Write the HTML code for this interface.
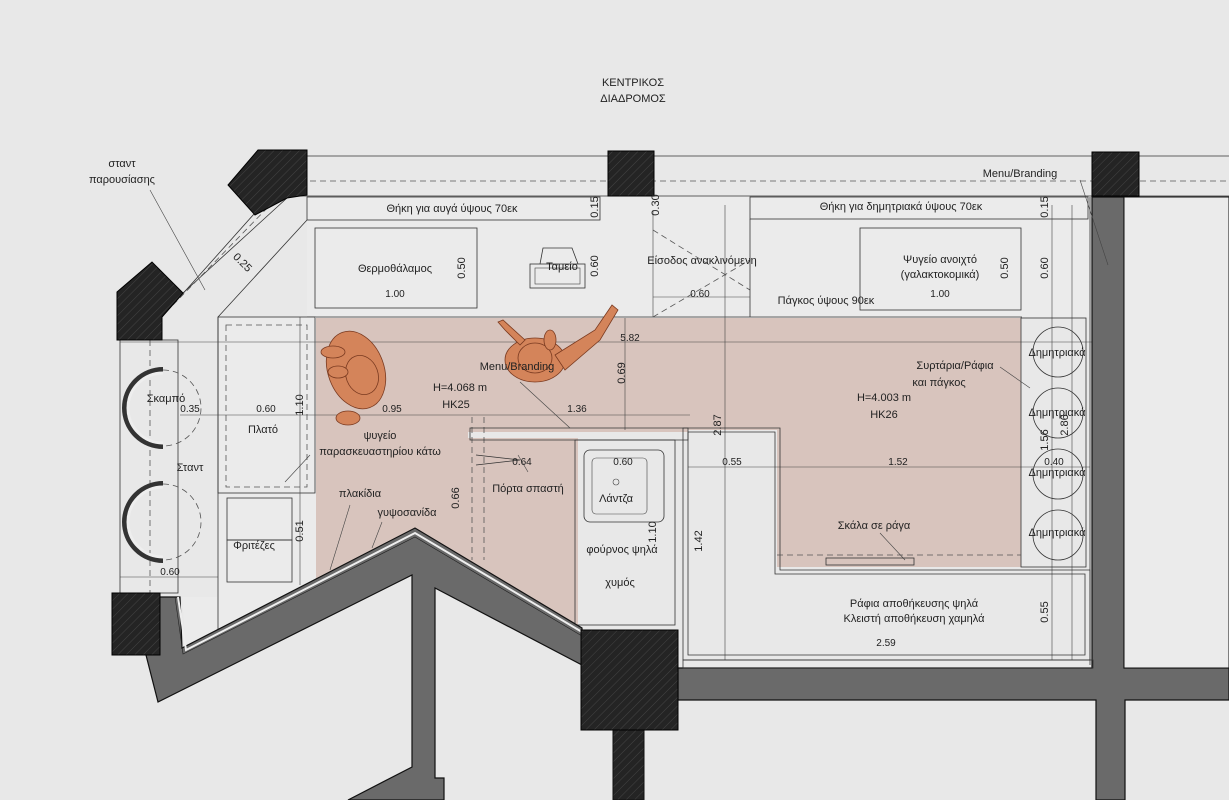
<!DOCTYPE html>
<html><head><meta charset="utf-8"><style>
html,body{margin:0;padding:0;background:#e8e8e8;}
svg{display:block;font-family:"Liberation Sans",sans-serif;}
text{fill:#222;font-size:11px;}
.c{text-anchor:middle}
.l{stroke:#333;stroke-width:0.8;fill:none}
.t{stroke:#444;stroke-width:0.6;fill:none}
.d{stroke:#555;stroke-width:0.8;fill:none;stroke-dasharray:6 4}
.col{stroke:#000;stroke-width:1}
.wall{fill:#6a6a6a;stroke:#111;stroke-width:1.2}
</style></head><body>
<svg width="1229" height="800" viewBox="0 0 1229 800" xmlns="http://www.w3.org/2000/svg">
<defs>
<pattern id="h" width="6" height="6" patternUnits="userSpaceOnUse" patternTransform="rotate(45)"><rect width="6" height="6" fill="#242424"/><line x1="0" y1="0" x2="0" y2="6" stroke="#444" stroke-width="1"/></pattern>
<pattern id="pl" width="16" height="16" patternUnits="userSpaceOnUse"><rect width="16" height="16" fill="#e4e4e4"/><path d="M8 5v6M5 8h6" stroke="#999" stroke-width="0.6"/></pattern>
</defs>
<rect width="1229" height="800" fill="#e8e8e8"/>
<line x1="300" y1="156" x2="1229" y2="156" class="l"/>
<line x1="300" y1="196" x2="1229" y2="196" class="l"/>
<line x1="290" y1="181" x2="1229" y2="181" class="d"/>
<polygon points="307,197 1090,197 1090,317 307,317" fill="#ebebeb"/>
<rect x="307" y="197" width="293" height="23" fill="#e9e9e9" class="l"/>
<rect x="750" y="197" width="338" height="22" fill="#e9e9e9" class="l"/>
<line x1="307" y1="317" x2="1022" y2="317" class="l"/>
<line x1="1090" y1="197" x2="1090" y2="665" class="l"/>
<!-- pink floor -->
<polygon points="316,318 1021,318 1021,567 777,567 777,430 688,430 688,432 468,432 468,566 415,535 316,586" fill="#d8c4bd"/>
<polygon points="466,438 578,438 578,630 466,564" fill="#d8c4bd"/>
<!-- left counter zone -->
<polygon points="218,317 316,317 316,586 186,652 182,597 218,597" fill="#ebebeb"/>
<line x1="218" y1="317" x2="307" y2="220" class="l"/>
<line x1="218" y1="317" x2="218" y2="640" class="l"/>
<rect x="218" y="317" width="97" height="176" fill="url(#pl)" class="l"/>
<rect x="226" y="325" width="81" height="162" class="d"/>
<rect x="227" y="498" width="65" height="42" class="l"/>
<rect x="227" y="540" width="65" height="42" class="l"/>
<rect x="120" y="340" width="58" height="253" fill="#ebebeb" class="l"/>
<line x1="150" y1="340" x2="150" y2="593" class="d"/>
<path d="M163,370 A38,38 0 0 0 163,446" stroke="#333" stroke-width="6" fill="none"/>
<path d="M163,373 A35,35 0 0 0 163,443" stroke="#eee" stroke-width="3" fill="none"/>
<path d="M163,484 A38,38 0 0 0 163,560" stroke="#333" stroke-width="6" fill="none"/>
<path d="M163,487 A35,35 0 0 0 163,557" stroke="#eee" stroke-width="3" fill="none"/>
<path d="M163,370 A38,38 0 0 1 163,446" class="d"/>
<path d="M163,484 A38,38 0 0 1 163,560" class="d"/>
<line x1="162" y1="317" x2="262" y2="205" class="l"/>
<line x1="183" y1="293" x2="287" y2="198" class="l"/>
<line x1="173" y1="305" x2="273" y2="202" class="d"/>
<line x1="150" y1="190" x2="205" y2="290" class="t"/>
<line x1="120" y1="342" x2="1095" y2="342" class="t"/>
<line x1="180" y1="415" x2="690" y2="415" class="t"/>
<line x1="120" y1="577" x2="218" y2="577" class="t"/>
<line x1="688" y1="467" x2="1090" y2="467" class="t"/>
<line x1="625" y1="318" x2="625" y2="430" class="t"/>
<line x1="725" y1="205" x2="725" y2="660" class="t"/>
<line x1="1052" y1="205" x2="1052" y2="660" class="t"/>
<line x1="1072" y1="205" x2="1072" y2="660" class="t"/>
<line x1="300" y1="317" x2="300" y2="585" class="t"/>
<line x1="472" y1="417" x2="472" y2="560" class="d"/>
<line x1="484" y1="417" x2="484" y2="560" class="d"/>
<line x1="653" y1="210" x2="653" y2="317" class="t"/>
<line x1="653" y1="230" x2="750" y2="290" class="d"/>
<line x1="653" y1="317" x2="750" y2="260" class="d"/>
<line x1="750" y1="219" x2="750" y2="317" class="l"/>
<line x1="653" y1="297" x2="750" y2="297" class="t"/>
<rect x="315" y="228" width="162" height="80" fill="#e6e6e6" class="l"/>
<rect x="860" y="228" width="161" height="82" fill="#e6e6e6" class="l"/>
<rect x="530" y="264" width="55" height="24" fill="#e6e6e6" class="l"/>
<rect x="535" y="268" width="45" height="16" class="t"/>
<path d="M540,264 L543,248 L572,248 L578,264" class="l"/>
<rect x="1021" y="318" width="65" height="249" fill="#ebebeb" class="l"/>
<circle cx="1058" cy="352" r="25" class="l"/>
<circle cx="1058" cy="413" r="25" class="l"/>
<circle cx="1058" cy="474" r="25" class="l"/>
<circle cx="1058" cy="535" r="25" class="l"/>
<polygon points="683,428 780,428 780,570 1090,570 1090,660 683,660" fill="#ebebeb" class="l"/>
<polygon points="688,432 775,432 775,574 1085,574 1085,655 688,655" class="l"/>
<rect x="826" y="558" width="88" height="7" fill="#eee" class="l"/>
<line x1="777" y1="555" x2="1021" y2="555" class="d"/>
<polygon points="470,428 688,428 688,440 470,440" fill="#ddd" class="l"/>
<rect x="575" y="440" width="100" height="185" fill="#ebebeb" class="l"/>
<rect x="584" y="450" width="80" height="72" rx="6" fill="#e4e4e4" class="l"/>
<rect x="592" y="458" width="55" height="56" rx="4" class="t"/>
<circle cx="616" cy="482" r="3" class="t"/>
<path d="M476,455 L520,460 L476,465" class="l"/>
<polygon class="wall" points="146,597 180,597 182,648 415,528 582,628 582,665 435,588 435,778 444,778 444,800 348,800 412,767 412,575 158,702 146,655"/>
<polyline points="178,597 186,650 415,533 582,632" stroke="#eee" stroke-width="2" fill="none"/>
<polyline points="175,597 183,654 415,537 582,636" stroke="#222" stroke-width="0.6" fill="none"/>
<polygon class="wall" points="1092,197 1124,197 1124,668 1229,668 1229,700 1125,700 1125,800 1096,800 1096,700 678,700 678,668 1092,668"/>
<rect x="1124" y="197" width="105" height="471" fill="#ebebeb" stroke="#111"/>
<rect x="683" y="660" width="410" height="8" fill="#e6e6e6" class="l"/>
<rect x="613" y="728" width="31" height="72" fill="url(#h)" stroke="#111"/>
<polygon class="col" fill="url(#h)" points="258,150 307,150 307,195 287,198 255,215 228,185"/>
<polygon class="col" fill="url(#h)" points="117,292 152,262 183,293 162,317 162,340 117,340"/>
<rect class="col" fill="url(#h)" x="608" y="151" width="46" height="45"/>
<rect class="col" fill="url(#h)" x="1092" y="152" width="47" height="44"/>
<rect class="col" fill="url(#h)" x="112" y="593" width="48" height="62"/>
<rect class="col" fill="url(#h)" x="581" y="630" width="97" height="100"/>
<g fill="#d4845a" stroke="#7a3a20" stroke-width="0.8">
<ellipse cx="356" cy="370" rx="28" ry="40" transform="rotate(-20 356 370)"/>
<ellipse cx="362" cy="375" rx="16" ry="20" transform="rotate(-20 362 375)"/>
<ellipse cx="333" cy="352" rx="12" ry="6"/>
<ellipse cx="338" cy="372" rx="10" ry="6"/>
<ellipse cx="348" cy="418" rx="12" ry="7"/>
<ellipse cx="535" cy="360" rx="30" ry="22"/>
<ellipse cx="535" cy="358" rx="17" ry="15"/>
<path d="M555,355 L595,330 L612,305 L618,310 L600,340 L565,370 Z"/>
<path d="M520,345 L505,330 L498,322 L503,320 L525,340 Z"/>
<ellipse cx="550" cy="340" rx="6" ry="10"/>
</g>
<line x1="520" y1="382" x2="570" y2="428" class="t"/>
<line x1="1080" y1="180" x2="1108" y2="265" class="t"/>
<line x1="1000" y1="367" x2="1030" y2="388" class="t"/>
<line x1="880" y1="533" x2="905" y2="560" class="t"/>
<line x1="350" y1="505" x2="330" y2="570" class="t"/>
<line x1="382" y1="522" x2="372" y2="548" class="t"/>
<line x1="310" y1="455" x2="285" y2="482" class="t"/>
<line x1="528" y1="472" x2="518" y2="455" class="t"/>
<text x="633" y="86" class="c">ΚΕΝΤΡΙΚΟΣ</text>
<text x="633" y="102" class="c">ΔΙΑΔΡΟΜΟΣ</text>
<text x="122" y="167" class="c">σταντ</text>
<text x="122" y="183" class="c">παρουσίασης</text>
<text x="1020" y="177" class="c">Menu/Branding</text>
<text x="452" y="212" class="c">Θήκη για αυγά ύψους 70εκ</text>
<text x="901" y="210" class="c">Θήκη για δημητριακά ύψους 70εκ</text>
<text x="395" y="272" class="c">Θερμοθάλαμος</text>
<text x="395" y="297" class="c" style="font-size:10px">1.00</text>
<text x="562" y="270" class="c">Ταμείο</text>
<text x="702" y="264" class="c">Είσοδος ανακλινόμενη</text>
<text x="700" y="297" class="c" style="font-size:10px">0.60</text>
<text x="826" y="304" class="c">Πάγκος ύψους 90εκ</text>
<text x="940" y="263" class="c">Ψυγείο ανοιχτό</text>
<text x="940" y="278" class="c">(γαλακτοκομικά)</text>
<text x="940" y="297" class="c" style="font-size:10px">1.00</text>
<text x="630" y="341" class="c" style="font-size:10px">5.82</text>
<text x="517" y="370" class="c">Menu/Branding</text>
<text x="460" y="391" class="c">H=4.068 m</text>
<text x="456" y="408" class="c">HK25</text>
<text x="166" y="402" class="c">Σκαμπό</text>
<text x="190" y="412" class="c" style="font-size:10px">0.35</text>
<text x="266" y="412" class="c" style="font-size:10px">0.60</text>
<text x="392" y="412" class="c" style="font-size:10px">0.95</text>
<text x="577" y="412" class="c" style="font-size:10px">1.36</text>
<text x="263" y="433" class="c">Πλατό</text>
<text x="190" y="471" class="c">Σταντ</text>
<text x="380" y="439" class="c">ψυγείο</text>
<text x="380" y="455" class="c">παρασκευαστηρίου κάτω</text>
<text x="522" y="465" class="c" style="font-size:10px">0.64</text>
<text x="528" y="492" class="c">Πόρτα σπαστή</text>
<text x="360" y="497" class="c">πλακίδια</text>
<text x="407" y="516" class="c">γυψοσανίδα</text>
<text x="254" y="549" class="c">Φριτέζες</text>
<text x="170" y="575" class="c" style="font-size:10px">0.60</text>
<text x="623" y="465" class="c" style="font-size:10px">0.60</text>
<text x="616" y="502" class="c">Λάντζα</text>
<text x="622" y="553" class="c">φούρνος ψηλά</text>
<text x="620" y="586" class="c">χυμός</text>
<text x="884" y="401" class="c">H=4.003 m</text>
<text x="884" y="418" class="c">HK26</text>
<text x="955" y="369" class="c">Συρτάρια/Ράφια</text>
<text x="939" y="386" class="c">και πάγκος</text>
<text x="1057" y="356" class="c">Δημητριακά</text>
<text x="1057" y="416" class="c">Δημητριακά</text>
<text x="1057" y="476" class="c">Δημητριακά</text>
<text x="1057" y="536" class="c">Δημητριακά</text>
<text x="732" y="465" class="c" style="font-size:10px">0.55</text>
<text x="898" y="465" class="c" style="font-size:10px">1.52</text>
<text x="1054" y="465" class="c" style="font-size:10px">0.40</text>
<text x="874" y="529" class="c">Σκάλα σε ράγα</text>
<text x="914" y="607" class="c">Ράφια αποθήκευσης ψηλά</text>
<text x="914" y="622" class="c">Κλειστή αποθήκευση χαμηλά</text>
<text x="886" y="646" class="c" style="font-size:10px">2.59</text>
<g style="font-size:10px">
<text transform="translate(465,268) rotate(-90)" class="c">0.50</text>
<text transform="translate(598,266) rotate(-90)" class="c">0.60</text>
<text transform="translate(1008,268) rotate(-90)" class="c">0.50</text>
<text transform="translate(1048,268) rotate(-90)" class="c">0.60</text>
<text transform="translate(598,207) rotate(-90)" class="c">0.15</text>
<text transform="translate(1048,207) rotate(-90)" class="c">0.15</text>
<text transform="translate(659,205) rotate(-90)" class="c">0.30</text>
<text transform="translate(625,373) rotate(-90)" class="c">0.69</text>
<text transform="translate(303,405) rotate(-90)" class="c">1.10</text>
<text transform="translate(303,531) rotate(-90)" class="c">0.51</text>
<text transform="translate(459,498) rotate(-90)" class="c">0.66</text>
<text transform="translate(656,532) rotate(-90)" class="c">1.10</text>
<text transform="translate(702,541) rotate(-90)" class="c">1.42</text>
<text transform="translate(721,425) rotate(-90)" class="c">2.87</text>
<text transform="translate(1048,440) rotate(-90)" class="c">1.56</text>
<text transform="translate(1068,425) rotate(-90)" class="c">2.86</text>
<text transform="translate(1048,612) rotate(-90)" class="c">0.55</text>
<text transform="translate(240,265) rotate(45)" class="c">0.25</text>
</g>
</svg>
</body></html>
